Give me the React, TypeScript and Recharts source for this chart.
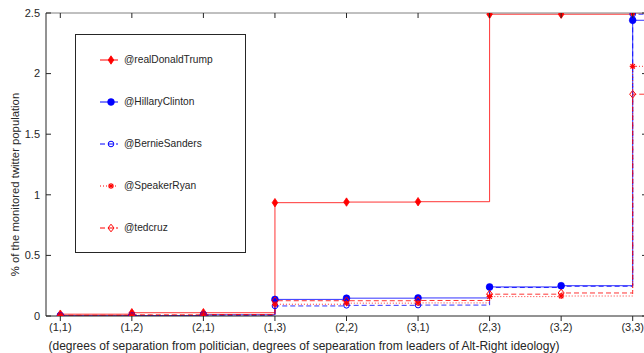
import React from "react"
import { LineChart, Line, XAxis, YAxis, Legend } from "recharts"

// categories along x: (degrees from politician, degrees from Alt-Right leaders)
const categories = ["(1,1)", "(1,2)", "(2,1)", "(1,3)", "(2,2)", "(3,1)", "(2,3)", "(3,2)", "(3,3)"]
const xPos = [1, 2, 3, 4, 5, 6, 7, 8, 9]

// % of the monitored twitter population
const trumpPct = [0.015, 0.027, 0.027, 0.935, 0.94, 0.943, 2.49, 2.49, 2.5]
const hillaryPct = [0.003, 0.004, 0.01, 0.137, 0.147, 0.149, 0.24, 0.25, 2.44]
const berniePct = [0.0, 0.002, 0.005, 0.083, 0.088, 0.09, 0.235, 0.245, 2.49]
const ryanPct = [0.003, 0.005, 0.008, 0.097, 0.106, 0.108, 0.16, 0.165, 2.06]
const cruzPct = [0.006, 0.01, 0.012, 0.126, 0.126, 0.128, 0.18, 0.19, 1.83]

const yTicks = [0, 0.5, 1, 1.5, 2, 2.5]
const X_DOMAIN: [number, number] = [0.8, 9.2]

const FONT = "'Liberation Sans', Arial, Helvetica, sans-serif"
const INK = "#262626"

type MarkerKind = "diamond" | "circle" | "circleOpen" | "star" | "diamondOpen"

interface SeriesDef {
  key: string
  name: string
  values: number[]
  color: string
  dash?: string
  marker: MarkerKind
}

const series: SeriesDef[] = [
  { key: "trump", name: "@realDonaldTrump", values: trumpPct, color: "#ff0000", marker: "diamond" },
  { key: "hillary", name: "@HillaryClinton", values: hillaryPct, color: "#0000ff", marker: "circle" },
  { key: "bernie", name: "@BernieSanders", values: berniePct, color: "#0000ff", dash: "5 3", marker: "circleOpen" },
  { key: "ryan", name: "@SpeakerRyan", values: ryanPct, color: "#ff0000", dash: "1 2", marker: "star" },
  { key: "cruz", name: "@tedcruz", values: cruzPct, color: "#ff0000", dash: "5 3", marker: "diamondOpen" },
]

// one row per category, plus a tail row so the last step runs out to the frame
const rows: Record<string, number>[] = xPos.map((x, i) => {
  const r: Record<string, number> = { x }
  series.forEach((s) => { r[s.key] = s.values[i] })
  return r
})
rows.push({ ...rows[rows.length - 1], x: X_DOMAIN[1] })

function MarkerShape({ kind, color, cx, cy }: { kind: MarkerKind; color: string; cx: number; cy: number }) {
  switch (kind) {
    case "diamond":
      return <polygon points={`${cx},${cy - 4.2} ${cx + 2.8},${cy} ${cx},${cy + 4.2} ${cx - 2.8},${cy}`} fill={color} stroke={color} strokeWidth={0.8} />
    case "diamondOpen":
      return <polygon points={`${cx},${cy - 3.8} ${cx + 3},${cy} ${cx},${cy + 3.8} ${cx - 3},${cy}`} fill="none" stroke={color} strokeWidth={1} />
    case "circle":
      return <circle cx={cx} cy={cy} r={3.4} fill={color} stroke={color} strokeWidth={0.6} />
    case "circleOpen":
      return <circle cx={cx} cy={cy} r={2.8} fill="none" stroke={color} strokeWidth={1} />
    case "star":
      return (
        <g stroke={color} strokeWidth={1.2}>
          <line x1={cx - 3} x2={cx + 3} y1={cy} y2={cy} />
          <line x1={cx} x2={cx} y1={cy - 3} y2={cy + 3} />
          <line x1={cx - 2.2} x2={cx + 2.2} y1={cy - 2.2} y2={cy + 2.2} />
          <line x1={cx - 2.2} x2={cx + 2.2} y1={cy + 2.2} y2={cy - 2.2} />
        </g>
      )
  }
  return null
}

function LeftTick({ x, y, payload }: any) {
  return (
    <g>
      <line x1={x + 6} x2={x + 11} y1={y} y2={y} stroke={INK} />
      <text x={x} y={y} dy="0.35em" textAnchor="end" fontSize={11} fontFamily={FONT} fill={INK}>
        {payload.value}
      </text>
    </g>
  )
}

function RightTick({ x, y }: any) {
  return <line x1={x - 5} x2={x} y1={y} y2={y} stroke={INK} />
}

function TopTick({ x, y }: any) {
  return <line x1={x} x2={x} y1={y} y2={y + 5} stroke={INK} />
}

function YLabel({ viewBox }: any) {
  const cx = viewBox.x + 15
  const cy = viewBox.y + viewBox.height / 2 + 20
  return (
    <text x={cx} y={cy} dy="0.35em" textAnchor="middle" transform={`rotate(-90 ${cx} ${cy})`}
      fontSize={11.3} fontFamily={FONT} fill={INK}>
      % of the monitored twitter population
    </text>
  )
}

function XLabel({ viewBox }: any) {
  return (
    <text x={viewBox.x + 258} y={viewBox.y + 29.5} dy="0.35em" textAnchor="middle"
      fontSize={12} fontFamily={FONT} fill={INK}>
      (degrees of separation from politician, degrees of sepearation from leaders of Alt-Right ideology)
    </text>
  )
}

function LegendBox() {
  return (
    <div style={{
      boxSizing: "border-box", width: 171, height: 219, border: `1px solid ${INK}`,
      background: "#fff", paddingTop: 4, paddingLeft: 24,
    }}>
      {series.map((s) => (
        <div key={s.key} style={{ height: 42, display: "flex", alignItems: "center" }}>
          <svg width={24} height={12} style={{ display: "block" }}>
            <line x1={0} x2={18} y1={6} y2={6} stroke={s.color} strokeWidth={1} strokeDasharray={s.dash} />
            <MarkerShape kind={s.marker} color={s.color} cx={11} cy={6} />
          </svg>
          <span style={{ fontFamily: FONT, fontSize: 10.2, color: INK, lineHeight: "12px" }}>{s.name}</span>
        </div>
      ))}
    </div>
  )
}

export default function App() {
  const last = rows.length - 1
  return (
    <div style={{ position: "fixed", left: 0, top: 0, width: 644, height: 353, overflow: "hidden", background: "#fff" }}>
      <LineChart width={680} height={353} data={rows} margin={{ top: 3, right: 23, left: 0, bottom: 0 }}>
        <XAxis
          xAxisId="b" dataKey="x" type="number" domain={X_DOMAIN} ticks={xPos} interval={0}
          allowDataOverflow height={37}
          tickFormatter={(v: number) => categories[v - 1] ?? ""}
          tick={{ fill: INK, fontSize: 11, fontFamily: FONT }}
          tickSize={5} tickLine={{ stroke: INK }} axisLine={{ stroke: INK }}
          label={XLabel}
        />
        <XAxis
          xAxisId="t" orientation="top" dataKey="x" type="number" domain={X_DOMAIN} ticks={xPos} interval={0}
          allowDataOverflow height={10} tickSize={0} tickMargin={0} tickLine={false}
          tick={TopTick} axisLine={{ stroke: "#808080" }}
        />
        <YAxis
          yAxisId="l" type="number" domain={[0, 2.5]} ticks={yTicks} interval={0} allowDataOverflow
          width={46} tickSize={0} tickMargin={6} tickLine={false} tick={LeftTick}
          axisLine={{ stroke: INK }} label={YLabel}
        />
        <YAxis
          yAxisId="r" orientation="right" type="number" domain={[0, 2.5]} ticks={yTicks} interval={0}
          allowDataOverflow width={10} tickSize={0} tickMargin={0} tickLine={false} tick={RightTick}
          axisLine={{ stroke: INK }}
        />
        <Legend
          verticalAlign="middle" align="center" layout="horizontal"
          wrapperStyle={{ left: 75, top: 34, width: 171, height: 219 }}
          content={() => <LegendBox />}
        />
        {series.map((s) => (
          <Line
            key={s.key}
            xAxisId="b"
            yAxisId="l"
            type="stepAfter"
            dataKey={s.key}
            name={s.name}
            stroke={s.color}
            strokeOpacity={0.8}
            strokeWidth={1}
            strokeDasharray={s.dash}
            isAnimationActive={false}
            activeDot={false}
            dot={(p: any) =>
              p.index === last || p.cx == null
                ? <g key={`${s.key}-${p.index}`} />
                : <g key={`${s.key}-${p.index}`}><MarkerShape kind={s.marker} color={s.color} cx={p.cx} cy={p.cy} /></g>
            }
          />
        ))}
      </LineChart>
    </div>
  )
}
